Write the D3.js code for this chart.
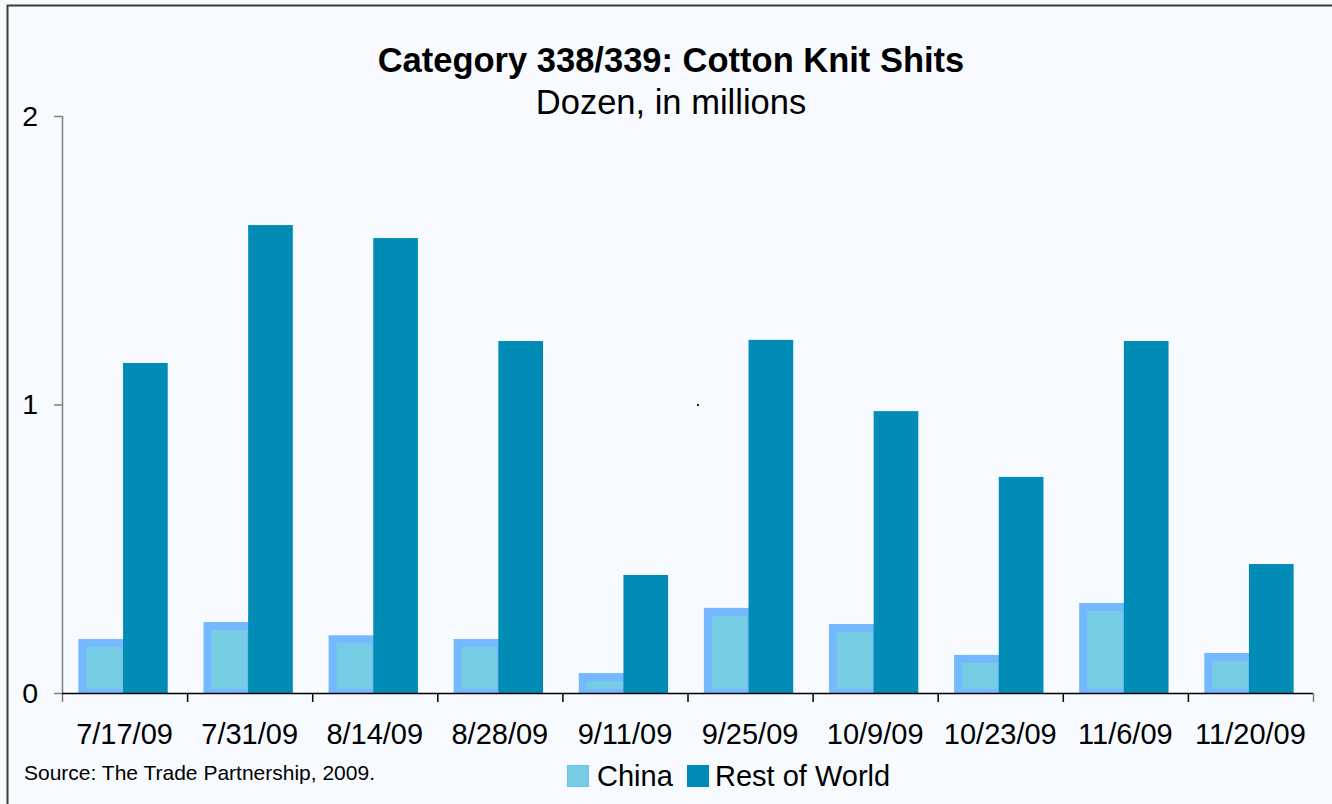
<!DOCTYPE html>
<html>
<head>
<meta charset="utf-8">
<script src="https://cdn.jsdelivr.net/npm/d3@7"></script>
<style>
  html, body { margin: 0; padding: 0; background: #f7fbff; }
  svg { display: block; font-family: "Liberation Sans", Arial, sans-serif; }
</style>
</head>
<body>
<svg id="chart" width="1332" height="804"></svg>
<script>
const categories = ["7/17/09","7/31/09","8/14/09","8/28/09","9/11/09","9/25/09","10/9/09","10/23/09","11/6/09","11/20/09"];
const seriesNames = ["China","Rest of World"];
const chinaValues = [0.187, 0.246, 0.200, 0.187, 0.069, 0.295, 0.239, 0.132, 0.312, 0.139];
const rowValues   = [1.144, 1.622, 1.577, 1.220, 0.409, 1.224, 0.977, 0.749, 1.220, 0.447];
const yTicks = [0, 1, 2];

const svg = d3.select("#chart");
const W = 1332, H = 804;
const m = {left: 62, right: 19, top: 116, bottom: 111};
const x0 = d3.scaleBand().domain(categories).range([m.left, W - m.right]).padding(0);
const x1 = d3.scaleBand().domain(seriesNames).range([0, x0.bandwidth()]).paddingInner(0).paddingOuter(0.4);
const y = d3.scaleLinear().domain([0, 2]).range([H - m.bottom, m.top]);
const xi = d3.scaleLinear().domain([0, categories.length]).range([m.left, W - m.right]);

// background + frame
svg.append("rect").attr("x", 0).attr("y", 0).attr("width", W).attr("height", H).attr("fill", "#f7fbff");
svg.append("rect").attr("x", 7.5).attr("y", 5.5).attr("width", W + 20).attr("height", H + 20)
  .attr("fill", "none").attr("stroke", "#3a3a3a").attr("stroke-width", 2);

// title
svg.append("text").attr("x", 671).attr("y", 72).attr("text-anchor", "middle")
  .attr("font-size", 34.5).attr("font-weight", "bold").attr("fill", "#000")
  .text("Category 338/339: Cotton Knit Shits");
svg.append("text").attr("x", 671).attr("y", 114).attr("text-anchor", "middle")
  .attr("font-size", 34.5).attr("fill", "#000")
  .text("Dozen, in millions");

// bars
const data = categories.map((c, i) => ({c, china: chinaValues[i], row: rowValues[i]}));
const g = svg.append("g").attr("transform", "translate(-1.5,0)");
const grp = g.selectAll("g.grp").data(data).join("g").attr("class", "grp")
  .attr("transform", d => `translate(${x0(d.c)},0)`);

grp.append("rect")
  .attr("x", x1("China")).attr("width", x1.bandwidth() + 1)
  .attr("y", d => y(d.china)).attr("height", d => y(0) - y(d.china))
  .attr("fill", "#74b8ff");
grp.append("rect")
  .attr("x", x1("China") + 8).attr("width", x1.bandwidth() - 9)
  .attr("y", d => y(d.china) + 8).attr("height", d => Math.max(0, y(0) - y(d.china) - 12))
  .attr("fill", "#76cce2");
grp.append("rect")
  .attr("x", x1("Rest of World")).attr("width", x1.bandwidth())
  .attr("y", d => y(d.row)).attr("height", d => y(0) - y(d.row))
  .attr("fill", "#008cb4");

// y axis
const yAxis = svg.append("g").attr("transform", `translate(${m.left},0)`)
  .call(d3.axisLeft(y).tickValues(yTicks).tickFormat(d3.format("d")).tickSize(8).tickPadding(16));
yAxis.select(".domain").attr("stroke", "#808080").attr("stroke-width", 1.5)
  .attr("d", `M0.5,${y(2)}V${y(0) + 9}`);
yAxis.selectAll(".tick line").attr("stroke", "#808080").attr("stroke-width", 1.5);
yAxis.selectAll(".tick text").attr("font-size", 28.5).attr("fill", "#000")
  .attr("font-family", "Liberation Sans, Arial, sans-serif");

// x axis: boundary ticks
const xTickAxis = svg.append("g").attr("transform", `translate(0,${y(0)})`)
  .call(d3.axisBottom(xi).tickValues(d3.range(1, categories.length + 1)).tickFormat("").tickSize(9));
xTickAxis.select(".domain").attr("stroke", "#000").attr("stroke-width", 1.5)
  .attr("d", `M${m.left},0.5H${W - m.right}`);
xTickAxis.selectAll(".tick line").attr("stroke", (d) => d === categories.length ? "#808080" : "#000").attr("stroke-width", 1.5);

// x axis labels
const xLab = svg.append("g").attr("transform", `translate(0,${y(0)})`)
  .call(d3.axisBottom(x0).tickSize(0).tickPadding(30));
xLab.select(".domain").remove();
xLab.selectAll(".tick text").attr("font-size", 29).attr("fill", "#000")
  .attr("font-family", "Liberation Sans, Arial, sans-serif");

// stray dot
svg.append("rect").attr("x", 697).attr("y", 404).attr("width", 2).attr("height", 2).attr("fill", "#222");

// source
svg.append("text").attr("x", 24).attr("y", 780).attr("font-size", 21).attr("fill", "#000")
  .text("Source: The Trade Partnership, 2009.");

// legend
const legend = [
  {name: seriesNames[0], fill: "#76cce2", stroke: "#74b8ff", x: 567, tx: 597},
  {name: seriesNames[1], fill: "#008cb4", stroke: "#008cb4", x: 687, tx: 715}
];
const lg = svg.append("g");
lg.selectAll("rect").data(legend).join("rect")
  .attr("x", d => d.x + 0.5).attr("y", 765.5).attr("width", 21).attr("height", 21)
  .attr("fill", d => d.fill).attr("stroke", d => d.stroke).attr("stroke-width", 1);
lg.selectAll("text").data(legend).join("text")
  .attr("x", d => d.tx).attr("y", 786).attr("font-size", 29).attr("fill", "#000")
  .text(d => d.name);
</script>
</body>
</html>
